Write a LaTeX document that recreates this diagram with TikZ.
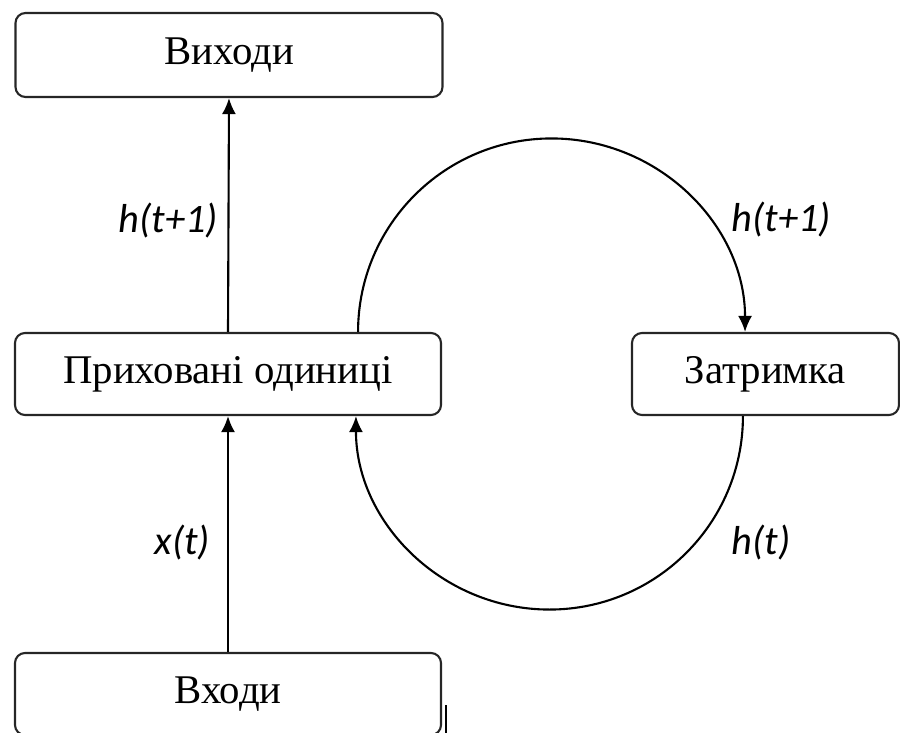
\documentclass[tikz,border=0pt]{standalone}
\usepackage{fontspec}
\setmainfont{Liberation Serif}
\newfontfamily\lblfont{Carlito}
\usetikzlibrary{arrows.meta,positioning}

\begin{document}
\begin{tikzpicture}[>={Latex[length=3.2mm,width=2.8mm]},line width=1.2pt,
  box/.style={draw=black!85,rounded corners=0.2cm,minimum height=1.64cm,align=center,font=\fontsize{23.2}{27}\selectfont,inner sep=2pt},
  lbl/.style={font=\lblfont\itshape\fontsize{23}{27}\selectfont,inner sep=1pt}]
\useasboundingbox (0,0) rectangle (18,-14.66);
\node[box,minimum width=8.54cm,minimum height=1.68cm] (out) at (4.58,-1.10) {Виходи};
\node[box,minimum width=8.52cm] (hid) at (4.56,-7.48) {Приховані одиниці};
\node[box,minimum width=8.52cm] (inp) at (4.56,-13.88) {Входи};
\node[box,minimum width=5.34cm] (delay) at (15.31,-7.48) {Затримка};
\draw[->] (hid.north) -- node[lbl,left=0.15cm,yshift=-0.12cm] {h(t+1)} (out.south);
\draw[->] (inp.north) -- node[lbl,left=0.3cm,yshift=-0.18cm] {x(t)} (hid.south);
% recurrent loop
\draw[->] ([xshift=-1.68cm]hid.north east) arc[start angle=180,end angle=0,radius=3.87cm];
\draw[->] ([xshift=2.24cm]delay.south west) arc[start angle=0,end angle=-180,radius=3.87cm];
\node[lbl] (hnext) at (15.63,-4.40) {h(t+1)};
\node[lbl] (hcur) at (15.22,-10.86) {h(t)};
\draw[line width=0.8pt] (8.92,-14.10) -- (8.92,-14.66);
\end{tikzpicture}
\end{document}
